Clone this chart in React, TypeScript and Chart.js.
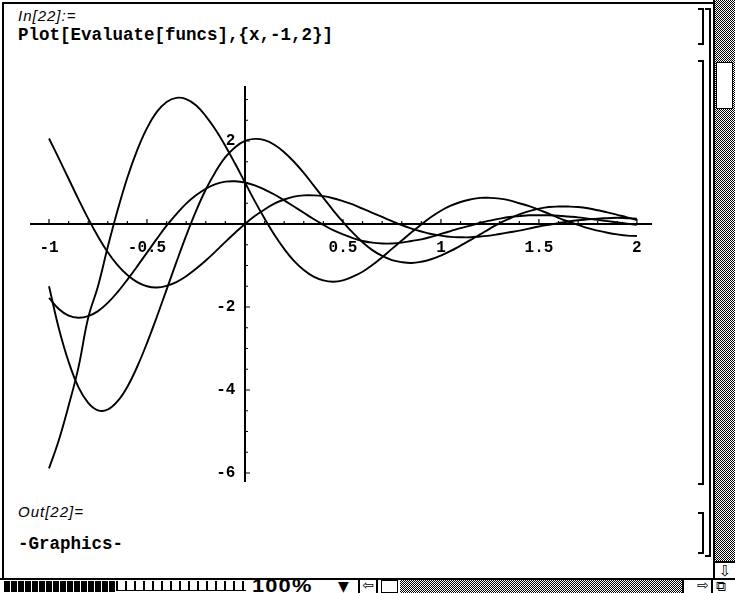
import React, { useEffect, useRef } from 'react';
import { Chart, registerables } from 'chart.js';

Chart.register(...registerables);

// x sample positions (x from -1 to 2)
const xValues = [
  -1, -0.95, -0.9, -0.85, -0.8, -0.75, -0.7, -0.65, -0.6, -0.55,
  -0.5, -0.45, -0.4, -0.35, -0.3, -0.25, -0.2, -0.15, -0.1, -0.05,
  0, 0.05, 0.1, 0.15, 0.2, 0.25, 0.3, 0.35, 0.4, 0.45,
  0.5, 0.55, 0.6, 0.65, 0.7, 0.75, 0.8, 0.85, 0.9, 0.95,
  1, 1.05, 1.1, 1.15, 1.2, 1.25, 1.3, 1.35, 1.4, 1.45,
  1.5, 1.55, 1.6, 1.65, 1.7, 1.75, 1.8, 1.85, 1.9, 1.95, 2,
];

// curve through the origin
const seriesA = [
  2.06, 1.58, 1.09, 0.6, 0.13, -0.3, -0.68, -0.99, -1.23, -1.4,
  -1.5, -1.53, -1.49, -1.4, -1.26, -1.08, -0.88, -0.66, -0.43, -0.21,
  0, 0.19, 0.35, 0.49, 0.59, 0.66, 0.69, 0.69, 0.67, 0.62,
  0.55, 0.47, 0.37, 0.27, 0.17, 0.07, -0.03, -0.11, -0.18, -0.24,
  -0.28, -0.31, -0.32, -0.32, -0.3, -0.28, -0.24, -0.2, -0.16, -0.11,
  -0.06, -0.02, 0.02, 0.06, 0.09, 0.11, 0.13, 0.14, 0.15, 0.14, 0.13,
];

// tall curve (from -5.9 up to 3)
const seriesB = [
  -5.89, -5.21, -4.38, -3.46, -2.26, -1.5, -0.55, 0.33, 1.12, 1.78,
  2.31, 2.7, 2.94, 3.04, 3.01, 2.86, 2.6, 2.27, 1.88, 1.45,
  1.0, 0.55, 0.13, -0.26, -0.6, -0.89, -1.11, -1.27, -1.36, -1.39,
  -1.36, -1.27, -1.15, -0.99, -0.8, -0.6, -0.4, -0.2, -0.01, 0.17,
  0.32, 0.44, 0.53, 0.59, 0.63, 0.63, 0.61, 0.57, 0.5, 0.43,
  0.34, 0.25, 0.15, 0.06, -0.02, -0.1, -0.16, -0.21, -0.25, -0.28, -0.29,
];

// curve with the deep minimum (-4.5) and a peak of 2
const seriesC = [
  -1.5, -2.51, -3.32, -3.93, -4.31, -4.49, -4.47, -4.27, -3.92, -3.44,
  -2.87, -2.24, -1.58, -0.92, -0.28, 0.31, 0.83, 1.26, 1.61, 1.85,
  2.0, 2.05, 2.02, 1.91, 1.73, 1.5, 1.23, 0.93, 0.63, 0.33,
  0.05, -0.21, -0.44, -0.63, -0.77, -0.87, -0.92, -0.94, -0.91, -0.85,
  -0.76, -0.65, -0.52, -0.39, -0.25, -0.11, 0.02, 0.13, 0.23, 0.31,
  0.37, 0.41, 0.42, 0.42, 0.41, 0.38, 0.33, 0.28, 0.22, 0.16, 0.09,
];

// curve with the shallow minimum (-2.2) and a peak of 1
const seriesD = [
  -1.78, -2.05, -2.21, -2.26, -2.22, -2.1, -1.9, -1.64, -1.34, -1.02,
  -0.69, -0.36, -0.04, 0.24, 0.49, 0.69, 0.85, 0.96, 1.02, 1.03,
  1.0, 0.93, 0.83, 0.71, 0.57, 0.42, 0.27, 0.12, -0.02, -0.15,
  -0.25, -0.34, -0.41, -0.45, -0.47, -0.47, -0.45, -0.41, -0.37, -0.31,
  -0.24, -0.17, -0.1, -0.04, 0.03, 0.08, 0.13, 0.17, 0.19, 0.21,
  0.21, 0.21, 0.2, 0.18, 0.16, 0.13, 0.1, 0.07, 0.04, 0.01, -0.02,
];

const xTickValues = [-1, -0.5, 0.5, 1, 1.5, 2];
const xTickLabels = ['-1', '-0.5', '0.5', '1', '1.5', '2'];
const xMinorTicks = [
  -0.9, -0.8, -0.7, -0.6, -0.4, -0.3, -0.2, -0.1, 0.1, 0.2, 0.3, 0.4,
  0.6, 0.7, 0.8, 0.9, 1.1, 1.2, 1.3, 1.4, 1.6, 1.7, 1.8, 1.9,
];
const yTickValues = [-6, -4, -2, 2];
const yTickLabels = ['-6', '-4', '-2', '2'];
const yMinorTicks = [-5.5, -5, -4.5, -3.5, -3, -2.5, -1.5, -1, -0.5, 0.5, 1, 1.5, 2.5, 3];

const axisTicksPlugin = {
  id: 'axisTicks',
  afterDraw(chart: any) {
    const xs = chart.scales.x;
    const ys = chart.scales.y;
    const ctx = chart.ctx;
    const y0 = ys.getPixelForValue(0);
    const x0 = xs.getPixelForValue(0);
    ctx.save();
    ctx.strokeStyle = '#000';
    ctx.lineWidth = 1.2;
    ctx.beginPath();
    xTickValues.forEach((v) => {
      const p = xs.getPixelForValue(v);
      ctx.moveTo(p, y0);
      ctx.lineTo(p, y0 - 5);
    });
    xMinorTicks.forEach((v) => {
      const p = xs.getPixelForValue(v);
      ctx.moveTo(p, y0);
      ctx.lineTo(p, y0 - 3);
    });
    yTickValues.forEach((v) => {
      const p = ys.getPixelForValue(v);
      ctx.moveTo(x0, p);
      ctx.lineTo(x0 + 5, p);
    });
    yMinorTicks.forEach((v) => {
      const p = ys.getPixelForValue(v);
      ctx.moveTo(x0, p);
      ctx.lineTo(x0 + 3, p);
    });
    ctx.stroke();
    ctx.restore();
  },
};

// keep the plot region equal to the whole canvas (axes cross inside it)
const noScalePadding = (scale: any) => {
  scale.paddingTop = 0;
  scale.paddingBottom = 0;
  scale.paddingLeft = 0;
  scale.paddingRight = 0;
};

const stipple: React.CSSProperties = {
  backgroundImage: 'repeating-conic-gradient(#000 0% 25%, #fff 0% 50%)',
  backgroundSize: '2px 2px',
};

function Bracket({ left, top, height, width = 6 }: { left: number; top: number; height: number; width?: number }) {
  return (
    <div
      style={{
        position: 'absolute',
        left,
        top,
        width,
        height,
        borderTop: '2px solid #000',
        borderRight: '2px solid #000',
        borderBottom: '2px solid #000',
        boxSizing: 'border-box',
      }}
    />
  );
}

export default function App() {
  const canvasRef = useRef<HTMLCanvasElement | null>(null);

  useEffect(() => {
    const canvas = canvasRef.current;
    if (!canvas) return;
    const series = [seriesA, seriesB, seriesC, seriesD];
    const chart = new Chart(canvas, {
      type: 'line',
      data: {
        datasets: series.map((s, k) => ({
          label: 'f' + (k + 1),
          data: xValues.map((x, i) => ({ x, y: s[i] })),
          borderColor: '#000',
          borderWidth: 1.9,
          pointRadius: 0,
          fill: false,
          tension: 0.4,
        })),
      },
      options: {
        animation: false,
        responsive: false,
        maintainAspectRatio: false,
        layout: { padding: 0 },
        plugins: { legend: { display: false }, tooltip: { enabled: false } },
        scales: {
          x: {
            type: 'linear',
            min: -1.097,
            max: 2.077,
            position: { y: 0 } as any,
            grid: { display: false, drawTicks: false },
            border: { display: true, color: '#000', width: 2 },
            afterBuildTicks: (scale: any) => {
              scale.ticks = xTickValues.map((v) => ({ value: v }));
            },
            afterFit: noScalePadding,
            ticks: {
              autoSkip: false,
              maxRotation: 0,
              padding: 14,
              color: '#000',
              font: { family: 'Liberation Mono', size: 16, weight: 'bold' },
              callback: (v: any) => xTickLabels[xTickValues.indexOf(Number(v))],
            },
          },
          y: {
            type: 'linear',
            min: -6.217,
            max: 3.325,
            position: { x: 0 } as any,
            grid: { display: false, drawTicks: false },
            border: { display: true, color: '#000', width: 2 },
            afterBuildTicks: (scale: any) => {
              scale.ticks = yTickValues.map((v) => ({ value: v }));
            },
            afterFit: noScalePadding,
            ticks: {
              autoSkip: false,
              padding: 0,
              color: '#000',
              font: { family: 'Liberation Mono', size: 16, weight: 'bold' },
              callback: (v: any) => yTickLabels[yTickValues.indexOf(Number(v))] + ' ',
            },
          },
        },
      },
      plugins: [axisTicksPlugin],
    });
    return () => chart.destroy();
  }, []);

  const mono = '"Liberation Mono", "DejaVu Sans Mono", monospace';

  return (
    <div
      style={{
        position: 'fixed',
        left: 0,
        top: 0,
        width: 735,
        height: 593,
        background: '#fff',
        overflow: 'hidden',
        color: '#000',
      }}
    >
      {/* window borders */}
      <div style={{ position: 'absolute', left: 2, top: 2, width: 712, height: 0, borderTop: '2px solid #000' }} />
      <div style={{ position: 'absolute', left: 2, top: 2, width: 0, height: 577, borderLeft: '2px solid #000' }} />

      {/* input cell */}
      <div
        style={{
          position: 'absolute',
          left: 18,
          top: 7,
          fontFamily: '"Liberation Sans", sans-serif',
          fontStyle: 'italic',
          fontSize: 15,
          letterSpacing: 1,
          lineHeight: '18px',
        }}
      >
        In[22]:=
      </div>
      <div
        style={{
          position: 'absolute',
          left: 18,
          top: 25,
          fontFamily: mono,
          fontWeight: 'bold',
          fontSize: 17.5,
          lineHeight: '20px',
          whiteSpace: 'pre',
        }}
      >
        Plot[Evaluate[funcs],{'{'}x,-1,2{'}'}]
      </div>

      {/* plot */}
      <canvas
        ref={canvasRef}
        width={622}
        height={396}
        style={{ position: 'absolute', left: 30, top: 86, width: 622, height: 396 }}
      />

      {/* output cell */}
      <div
        style={{
          position: 'absolute',
          left: 18,
          top: 503,
          fontFamily: '"Liberation Sans", sans-serif',
          fontStyle: 'italic',
          fontSize: 15,
          letterSpacing: 1,
          lineHeight: '18px',
        }}
      >
        Out[22]=
      </div>
      <div
        style={{
          position: 'absolute',
          left: 18,
          top: 534,
          fontFamily: mono,
          fontWeight: 600,
          fontSize: 17.5,
          lineHeight: '20px',
          whiteSpace: 'pre',
        }}
      >
        -Graphics-
      </div>

      {/* cell brackets */}
      <Bracket left={698} top={8} height={37} />
      <Bracket left={698} top={60} height={425} />
      <Bracket left={698} top={512} height={42} />
      <Bracket left={705} top={8} height={549} />

      {/* vertical scroll bar */}
      <div
        style={{
          position: 'absolute',
          left: 713,
          top: 0,
          width: 22,
          height: 562,
          borderLeft: '2px solid #000',
          boxSizing: 'border-box',
          ...stipple,
        }}
      />
      <div
        style={{
          position: 'absolute',
          left: 716,
          top: 62,
          width: 17,
          height: 47,
          background: '#fff',
          border: '1px solid #000',
          boxSizing: 'border-box',
        }}
      />
      <div
        style={{
          position: 'absolute',
          left: 713,
          top: 561,
          width: 22,
          height: 18,
          background: '#fff',
          borderLeft: '2px solid #000',
          borderTop: '2px solid #000',
          boxSizing: 'border-box',
          fontFamily: '"DejaVu Sans", sans-serif',
          fontSize: 15,
          lineHeight: '16px',
          textAlign: 'center',
        }}
      >
        ⇩
      </div>

      {/* bottom bar */}
      <div
        style={{
          position: 'absolute',
          left: 0,
          top: 578,
          width: 735,
          height: 15,
          borderTop: '2px solid #000',
          boxSizing: 'border-box',
          background: '#fff',
        }}
      />
      <div
        style={{
          position: 'absolute',
          left: 4,
          top: 581,
          width: 112,
          height: 11,
          background:
            'repeating-linear-gradient(90deg, #000 0px, #000 6px, #fff 6px, #fff 7px)',
        }}
      />
      <div
        style={{
          position: 'absolute',
          left: 116,
          top: 581,
          width: 130,
          height: 9,
          borderBottom: '1px solid #000',
          background:
            'repeating-linear-gradient(90deg, #000 0px, #000 2px, transparent 2px, transparent 9px)',
        }}
      />
      <div
        style={{
          position: 'absolute',
          left: 252,
          top: 577,
          fontFamily: '"Liberation Sans", sans-serif',
          fontWeight: 'bold',
          fontSize: 19,
          letterSpacing: 1,
          lineHeight: '17px',
          transform: 'scaleX(1.15)',
          transformOrigin: 'left center',
        }}
      >
        100%
      </div>
      <div
        style={{
          position: 'absolute',
          left: 338,
          top: 579,
          fontFamily: '"DejaVu Sans", sans-serif',
          fontSize: 14,
          lineHeight: '14px',
        }}
      >
        ▼
      </div>
      <div
        style={{
          position: 'absolute',
          left: 358,
          top: 578,
          width: 20,
          height: 15,
          borderLeft: '2px solid #000',
          borderRight: '2px solid #000',
          boxSizing: 'border-box',
          fontFamily: '"DejaVu Sans", sans-serif',
          fontSize: 14,
          lineHeight: '14px',
          textAlign: 'center',
        }}
      >
        ⇦
      </div>
      <div
        style={{
          position: 'absolute',
          left: 381,
          top: 580,
          width: 17,
          height: 13,
          border: '1px solid #000',
          boxSizing: 'border-box',
          background: '#fff',
        }}
      />
      <div style={{ position: 'absolute', left: 400, top: 580, width: 282, height: 13, ...stipple }} />
      <div
        style={{
          position: 'absolute',
          left: 682,
          top: 578,
          width: 31,
          height: 15,
          borderLeft: '2px solid #000',
          borderRight: '2px solid #000',
          boxSizing: 'border-box',
          fontFamily: '"DejaVu Sans", sans-serif',
          fontSize: 14,
          lineHeight: '14px',
          textAlign: 'right',
          paddingRight: 2,
        }}
      >
        ⇨
      </div>
      <div
        style={{
          position: 'absolute',
          left: 716,
          top: 580,
          fontFamily: '"DejaVu Sans", sans-serif',
          fontSize: 14,
          lineHeight: '13px',
        }}
      >
        ⧉
      </div>
    </div>
  );
}
